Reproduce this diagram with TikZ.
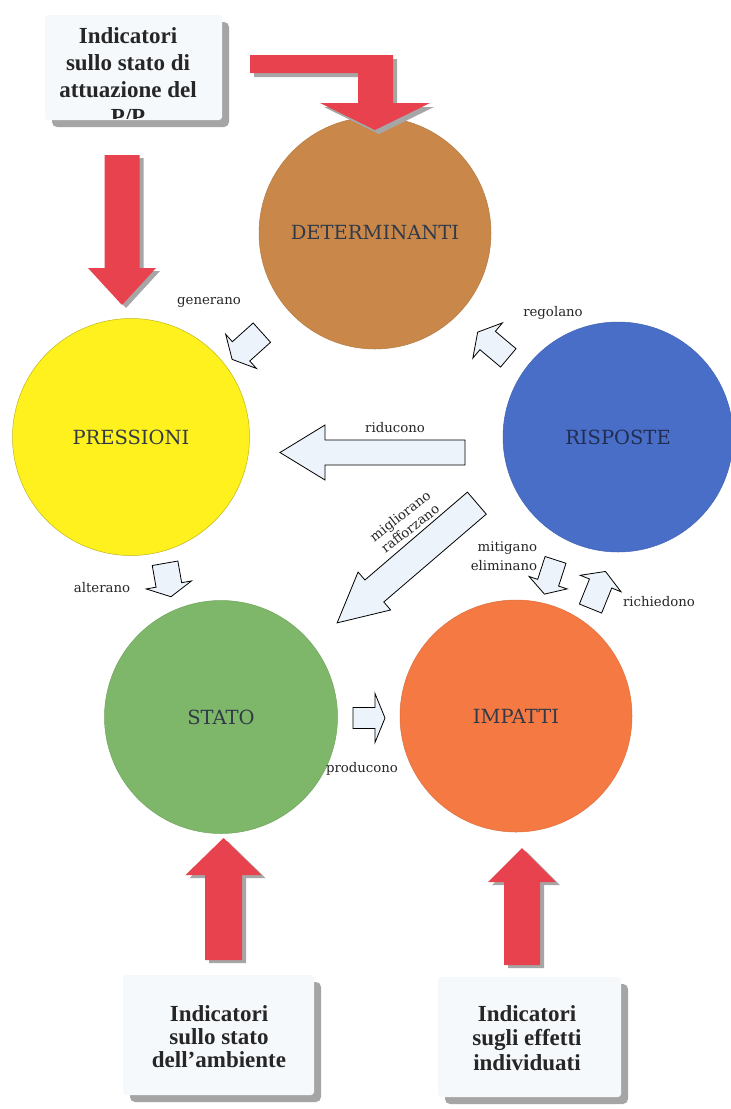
\documentclass[tikz,border=0pt]{standalone}
\usepackage{fontspec}
\setmainfont{Liberation Serif}
\newfontfamily\labfont{DejaVu Serif}
\definecolor{redarrow}{RGB}{232,66,78}
\definecolor{arrowfill}{RGB}{236,243,250}
\definecolor{boxfill}{RGB}{246,249,252}
\definecolor{shadowc}{RGB}{165,165,165}
\definecolor{cdet}{RGB}{201,136,74}
\definecolor{cpre}{RGB}{255,241,30}
\definecolor{cris}{RGB}{72,110,200}
\definecolor{csta}{RGB}{126,183,106}
\definecolor{cimp}{RGB}{245,121,66}
\definecolor{ctext}{RGB}{50,58,72}
\newcommand{\barrow}[8]{\path[#1, shift={(#2,#3)}, rotate=#4] (-#5/2,-#6) -- (#5/2-#8,-#6) -- (#5/2-#8,-#7) -- (#5/2,0) -- (#5/2-#8,#7) -- (#5/2-#8,#6) -- (-#5/2,#6) -- cycle;}
\begin{document}
\begin{tikzpicture}[x=1pt,y={(0pt,-1pt)},
  lab/.style={font=\labfont\fontsize{13.3}{15}\selectfont, text=black!85, inner sep=0pt},
  circ/.style={circle, inner sep=0pt, font=\labfont\fontsize{19.5}{22}\selectfont, text=ctext},
  wa/.style={draw=black, line width=0.8pt, fill=arrowfill, line join=miter},
  ra/.style={fill=redarrow, draw=none},
  rs/.style={fill=black!35, draw=none},
  boxtext/.style={font=\bfseries\fontsize{23}{27}\selectfont, text=black!85, inner sep=0pt, anchor=base}
]
\useasboundingbox (0,0) rectangle (731,1109);
\fill[white] (0,0) rectangle (731,1109);

% circles
\node[circ, minimum size=232pt, fill=cdet, draw=cdet!90!black, line width=0.5pt] (det) at (375,233) {DETERMINANTI};
\node[circ, minimum size=237pt, fill=cpre, draw=cpre!75!black, line width=0.5pt] (pre) at (131,437) {PRESSIONI};
\node[circ, minimum size=230pt, fill=cris, draw=cris!90!black, line width=0.5pt, text={rgb,255:red,35;green,45;blue,80}] (ris) at (618,437) {RISPOSTE};
\node[circ, minimum size=233pt, fill=csta, draw=csta!90!black, line width=0.5pt] (sta) at (221,717) {STATO};
\node[circ, minimum size=232pt, fill=cimp, draw=cimp!90!black, line width=0.5pt] (imp) at (516,716) {IMPATTI};

% top-left box
\fill[shadowc, rounded corners=5] (52,22) rectangle (229,127);
\fill[boxfill, rounded corners=3] (45,15) rectangle (222,120);
\begin{scope}
\clip (45,15) rectangle (222,118);
\node[boxtext] (tb1) at (128,43) {Indicatori};
\node[boxtext] (tb2) at (128,70) {sullo stato di};
\node[boxtext] (tb3) at (128,97) {attuazione del};
\node[boxtext] (tb4) at (128,124) {P/P};
\end{scope}

% bottom-left box
\fill[shadowc, rounded corners=5] (130,982) rectangle (321,1102);
\fill[boxfill, rounded corners=3] (123,975) rectangle (314,1095);
\node[boxtext] (bl1) at (219,1021) {Indicatori};
\node[boxtext] (bl2) at (219,1044) {sullo stato};
\node[boxtext] (bl3) at (219,1067) {dell’ambiente};

% bottom-right box
\fill[shadowc, rounded corners=5] (445,984) rectangle (628,1104);
\fill[boxfill, rounded corners=3] (438,977) rectangle (621,1097);
\node[boxtext] (br1) at (527,1021) {Indicatori};
\node[boxtext] (br2) at (527,1045) {sugli effetti};
\node[boxtext] (br3) at (527,1070) {individuati};

% red arrows
\path[rs, shift={(4,4)}] (250,55) -- (393,55) -- (393,103) -- (430,103) -- (375,130) -- (320,103) -- (358,103) -- (358,73) -- (250,73) -- cycle;
\path[ra] (250,55) -- (393,55) -- (393,103) -- (430,103) -- (375,130) -- (320,103) -- (358,103) -- (358,73) -- (250,73) -- cycle;
\barrow{rs}{126}{233}{-90}{150}{17.5}{34}{37}
\barrow{ra}{122}{230}{-90}{150}{17.5}{34}{37}
\barrow{rs}{227.5}{902}{90}{122}{18.5}{38}{37}
\barrow{ra}{223.5}{899}{90}{122}{18.5}{38}{37}
\barrow{rs}{526}{909.5}{90}{117}{18}{34}{34}
\barrow{ra}{522}{906.5}{90}{117}{18}{34}{34}

% outline arrows
\barrow{wa}{247}{346}{222}{40}{13}{23}{12}
\barrow{wa}{493}{345}{140}{40}{12}{23}{13}
\barrow{wa}{372.5}{452.5}{180}{185}{12.5}{27.5}{45}
\barrow{wa}{407}{563}{220.6}{184}{14.5}{25}{49}
\barrow{wa}{168}{580}{-80}{34}{13}{23}{12}
\barrow{wa}{550}{577}{-108}{36}{11}{20}{12}
\barrow{wa}{598}{590}{68}{40}{12}{22}{13}
\barrow{wa}{369}{718}{0}{32}{10.5}{24.5}{10}

% labels
\node[lab] (lgen) at (209,302) {generano};
\node[lab] (lreg) at (553,313) {regolano};
\node[lab] (lrid) at (395,428) {riducono};
\node[lab, align=center, rotate=38, font=\labfont\fontsize{13.3}{16}\selectfont] (lmig) at (405,522) {migliorano\\rafforzano};
\node[lab] (lalt) at (102,588) {alterano};
\node[lab, align=right, font=\labfont\fontsize{13.3}{19}\selectfont] (lmit) at (504,556) {mitigano\\eliminano};
\node[lab] (lric) at (659,602) {richiedono};
\node[lab] (lpro) at (362,769) {producono};
\end{tikzpicture}
\end{document}
